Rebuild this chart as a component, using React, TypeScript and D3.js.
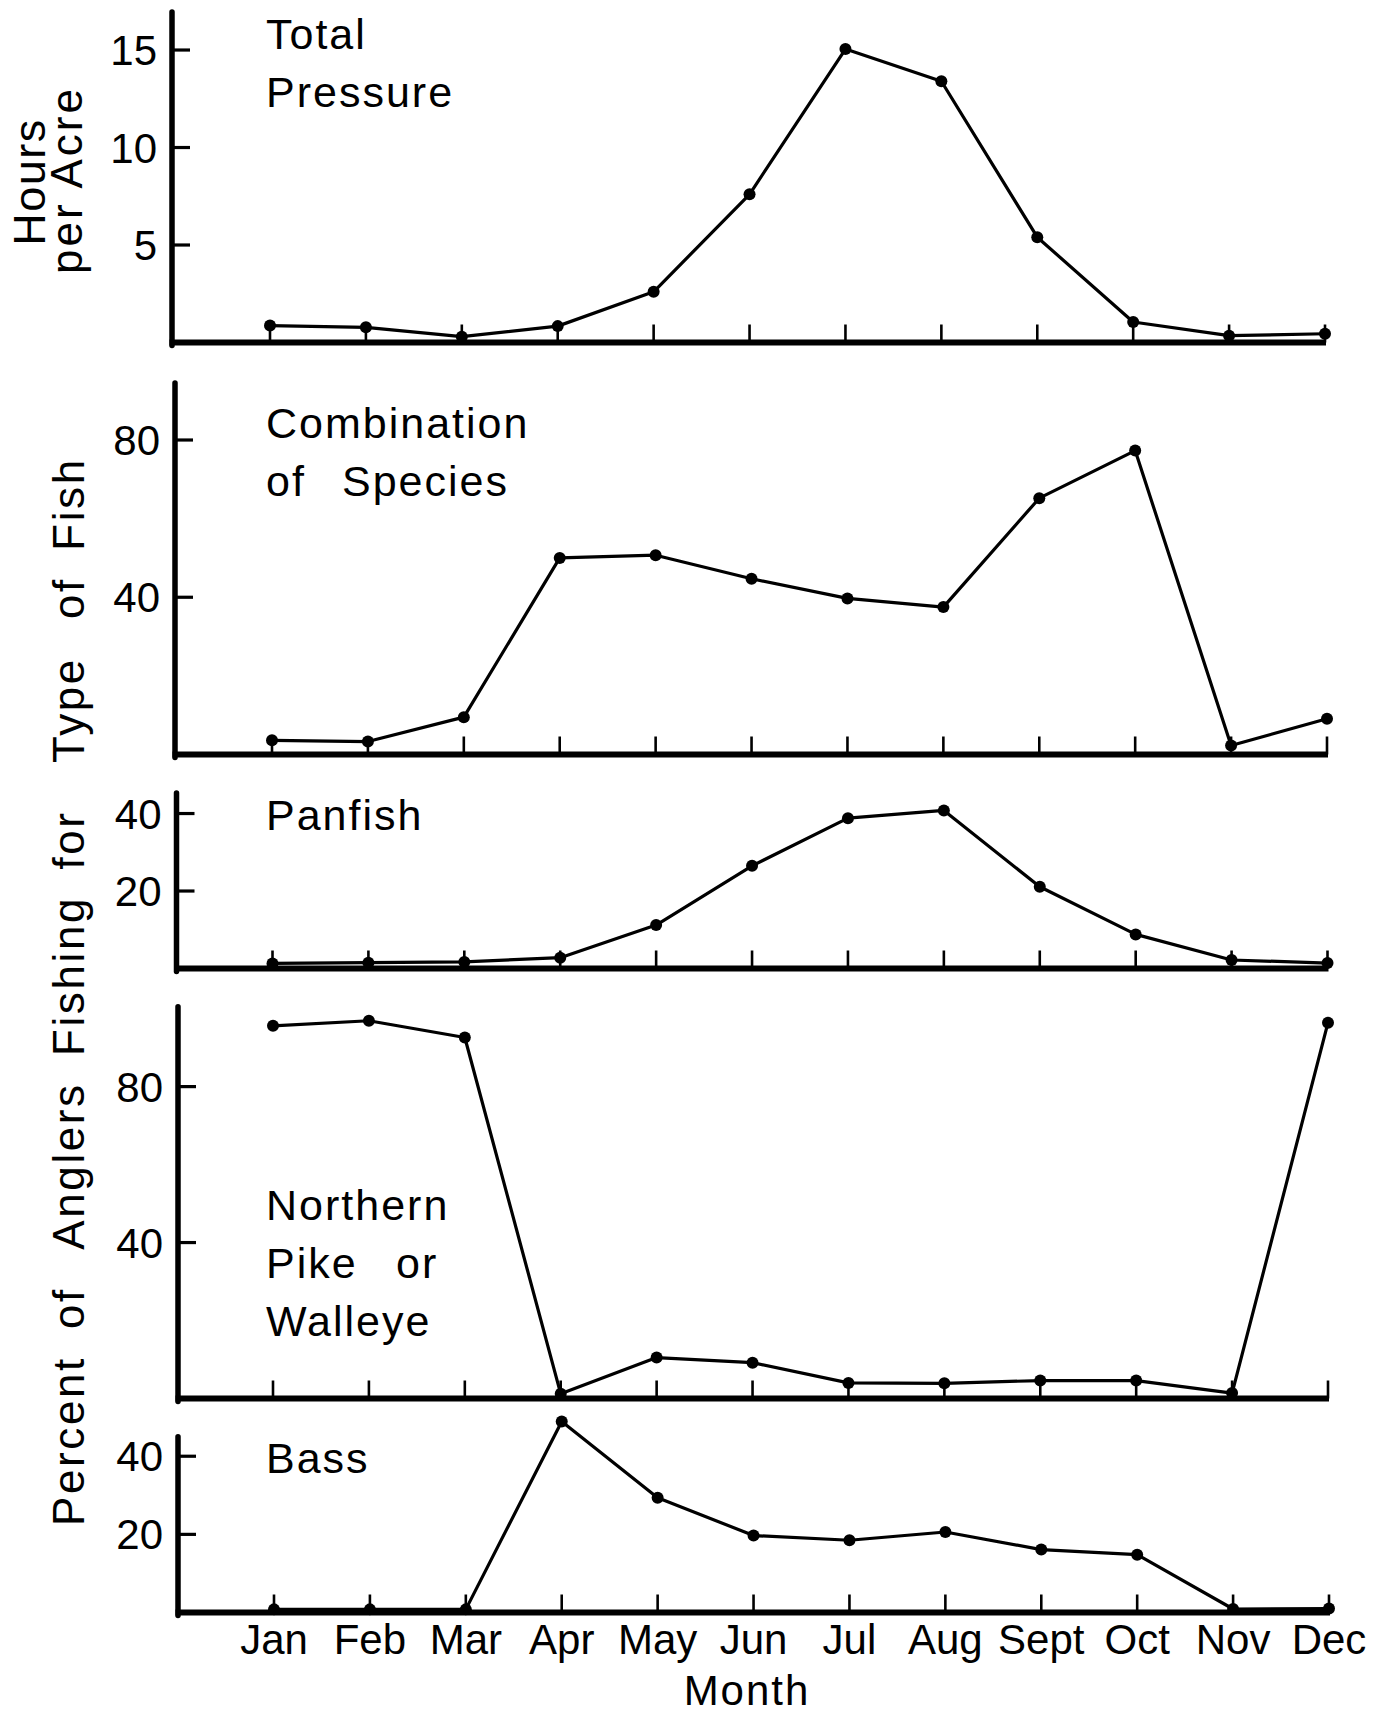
import React from 'react';
import * as d3 from 'd3';

// ---------- data ----------
const months = ['Jan', 'Feb', 'Mar', 'Apr', 'May', 'Jun', 'Jul', 'Aug', 'Sept', 'Oct', 'Nov', 'Dec'];

const totalPressure = [0.87, 0.78, 0.3, 0.84, 2.6, 7.6, 15.05, 13.4, 5.4, 1.05, 0.35, 0.45];
const combinationSpecies = [3.6, 3.3, 9.5, 50, 50.7, 44.7, 39.7, 37.5, 65.2, 77.3, 2.3, 9.1];
const panfish = [1.3, 1.5, 1.7, 2.8, 11.2, 26.5, 38.8, 40.8, 21.1, 8.8, 2.2, 1.4];
const pikeWalleye = [95.6, 96.9, 92.6, 1.2, 10.5, 9.2, 4.0, 3.9, 4.6, 4.6, 1.4, 96.4];
const bass = [0.8, 0.8, 0.8, 48.9, 29.4, 19.7, 18.5, 20.6, 16.1, 14.8, 0.9, 1.0];

const ticksPressure = [5, 10, 15];
const ticksCombination = [40, 80];
const ticksPanfish = [20, 40];
const ticksPike = [40, 80];
const ticksBass = [20, 40];

const labelPressure = [['Total'], ['Pressure']];
const labelCombination = [['Combination'], ['of', 'Species']];
const labelPanfish = [['Panfish']];
const labelPike = [['Northern'], ['Pike', 'or'], ['Walleye']];
const labelBass = [['Bass']];

const yTitleHours = ['Hours', 'per Acre'];
const yTitlePercent = ['Percent', 'of', 'Anglers', 'Fishing', 'for', 'Type', 'of', 'Fish'];
const xTitle = 'Month';

// ---------- layout ----------
const W = 1373;
const H = 1716;
const FONT = '"Liberation Sans", Arial, Helvetica, sans-serif';

const panels = [
  { values: totalPressure, ticks: ticksPressure, label: labelPressure, axisX: 172, top: 12, bottom: 342.5, max: 16.95, janX: 270, labelY: 49, secondWordX: 0 },
  { values: combinationSpecies, ticks: ticksCombination, label: labelCombination, axisX: 175, top: 383, bottom: 754.5, max: 94.5, janX: 272, labelY: 438, secondWordX: 342 },
  { values: panfish, ticks: ticksPanfish, label: labelPanfish, axisX: 176.5, top: 793, bottom: 968.5, max: 45.3, janX: 272.5, labelY: 830, secondWordX: 0 },
  { values: pikeWalleye, ticks: ticksPike, label: labelPike, axisX: 178, top: 1006.7, bottom: 1398.5, max: 100.5, janX: 273, labelY: 1220, secondWordX: 396 },
  { values: bass, ticks: ticksBass, label: labelBass, axisX: 178, top: 1436.7, bottom: 1612.5, max: 45, janX: 274, labelY: 1473, secondWordX: 0 },
];

const SPAN = 1055;
const LABEL_X = 266;
const LINE_GAP = 58;

// word positions (centre, along the rotated axis) for the long title
const percentCentres = [1441, 1308, 1166, 976, 840, 710, 598, 504];

function Panel({ p }: { p: typeof panels[number] }) {
  const x = d3.scalePoint<string>().domain(months).range([p.janX, p.janX + SPAN]);
  const y = d3.scaleLinear().domain([0, p.max]).range([p.bottom, p.top]);
  const line = d3
    .line<number>()
    .x((_, i) => x(months[i]) as number)
    .y((d) => y(d));
  const decX = x(months[months.length - 1]) as number;
  return (
    <g>
      {/* month ticks */}
      {months.map((m) => (
        <line key={m} x1={x(m)} x2={x(m)} y1={y(0)} y2={y(0) - 18} stroke="#000" strokeWidth={2.6} />
      ))}
      {/* y axis */}
      <line x1={p.axisX} x2={p.axisX} y1={p.top} y2={y(0) + 3} stroke="#000" strokeWidth={5.5} strokeLinecap="round" />
      {/* x axis */}
      <line x1={p.axisX - 2.5} x2={decX + 1} y1={y(0)} y2={y(0)} stroke="#000" strokeWidth={6} />
      {/* y ticks + labels */}
      {p.ticks.map((t) => (
        <g key={t}>
          <line x1={p.axisX} x2={p.axisX + 18} y1={y(t)} y2={y(t)} stroke="#000" strokeWidth={3.2} />
          <text x={p.axisX - 15} y={y(t)} dy="0.36em" textAnchor="end" fontSize={42} fontFamily={FONT} fill="#000">
            {t}
          </text>
        </g>
      ))}
      {/* data line */}
      <path d={line(p.values) || ''} fill="none" stroke="#000" strokeWidth={3.2} strokeLinejoin="round" />
      {p.values.map((v, i) => (
        <circle key={i} cx={x(months[i])} cy={y(v)} r={6} fill="#000" />
      ))}
      {/* panel label */}
      <text fontSize={43} fontFamily={FONT} fill="#000" letterSpacing={2}>
        {p.label.map((ln, li) =>
          ln.map((w, wi) => (
            <tspan key={li + '-' + wi} x={wi === 0 ? LABEL_X : p.secondWordX} y={p.labelY + li * LINE_GAP}>
              {w + (wi < ln.length - 1 ? ' ' : '')}
            </tspan>
          ))
        )}
      </text>
    </g>
  );
}

export default function App() {
  const last = panels[panels.length - 1];
  const xb = d3.scalePoint<string>().domain(months).range([last.janX, last.janX + SPAN]);
  return (
    <div style={{ position: 'absolute', left: 0, top: 0 }}>
      <svg width={W} height={H} viewBox={`0 0 ${W} ${H}`} style={{ display: 'block', background: '#fff' }}>
        <rect x={0} y={0} width={W} height={H} fill="#fff" />
        {panels.map((p, i) => (
          <Panel key={i} p={p} />
        ))}
        {/* month labels */}
        {months.map((m) => (
          <text key={m} x={xb(m)} y={1654} textAnchor="middle" fontSize={42} fontFamily={FONT} fill="#000">
            {m}
          </text>
        ))}
        <text x={747} y={1705} textAnchor="middle" fontSize={42} fontFamily={FONT} letterSpacing={2} fill="#000">
          {xTitle}
        </text>
        {/* y title, top panel */}
        <text transform="translate(45,182) rotate(-90)" textAnchor="middle" fontSize={45} fontFamily={FONT} letterSpacing={1.5} fill="#000">
          {yTitleHours[0]}
        </text>
        <text transform="translate(82,180) rotate(-90)" textAnchor="middle" fontSize={44} fontFamily={FONT} letterSpacing={3} fill="#000">
          {yTitleHours[1]}
        </text>
        {/* y title, lower panels */}
        <text transform="translate(84,0) rotate(-90)" textAnchor="middle" fontSize={44} fontFamily={FONT} letterSpacing={2.6} fill="#000">
          {yTitlePercent.map((w, i) => (
            <tspan key={i} x={-percentCentres[i]} y={0}>
              {w}
            </tspan>
          ))}
        </text>
      </svg>
    </div>
  );
}
